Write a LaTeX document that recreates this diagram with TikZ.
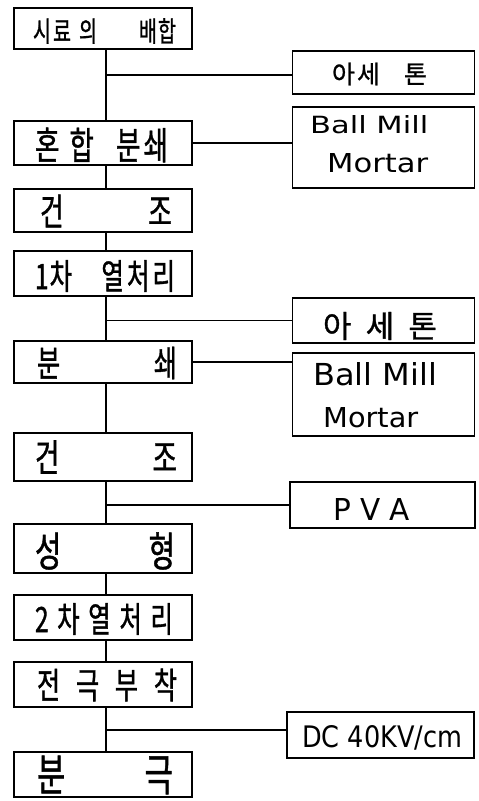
\documentclass[tikz,border=0pt]{standalone}
\usepackage{fontspec}
\usepackage{graphicx}
\newfontfamily\kr[FakeStretch=0.7,FakeBold=1.0]{Noto Sans CJK KR}
\newfontfamily\krw[FakeBold=1.0]{Noto Sans CJK KR}
\newfontfamily\lat{DejaVu Sans}
\begin{document}
\begin{tikzpicture}[x=1pt,y=1pt,
  box/.style={draw, line width=1.1pt, inner sep=0pt, minimum width=178pt},
  rbox/.style={draw, line width=1.1pt, inner sep=0pt},
  conn/.style={line width=1.7pt},
  txt/.style={inner sep=0pt, anchor=center},
  ltxt/.style={inner sep=0pt, anchor=base west}]
\useasboundingbox (0,0) rectangle (479,-801);
\fill[white] (0,0) rectangle (479,-801);
% left column boxes
\node[box, minimum height=41pt] (s1) at (103,-28.5) {};
\node[box, minimum height=44pt] (s2) at (103,-143) {};
\node[box, minimum height=43pt] (s3) at (103,-210.5) {};
\node[box, minimum height=45pt] (s4) at (103,-273.5) {};
\node[box, minimum height=42pt] (s5) at (103,-362) {};
\node[box, minimum height=48pt] (s6) at (103,-457) {};
\node[box, minimum height=49pt] (s7) at (103,-548.5) {};
\node[box, minimum height=45pt] (s8) at (103,-617.5) {};
\node[box, minimum height=45pt] (s9) at (103,-684.5) {};
\node[box, minimum height=45pt] (s10) at (103,-774.5) {};
% right column boxes
\node[rbox, minimum width=182pt, minimum height=43pt] (r1) at (383.5,-72.5) {};
\node[rbox, minimum width=182pt, minimum height=81pt] (r2) at (383.5,-147.5) {};
\node[rbox, minimum width=182pt, minimum height=45pt] (r3) at (383.5,-320.5) {};
\node[rbox, minimum width=182pt, minimum height=83pt] (r4) at (383.5,-394.5) {};
\node[rbox, minimum width=185pt, minimum height=46pt] (r5) at (382.5,-505) {};
\node[rbox, minimum width=187pt, minimum height=46pt] (r6) at (380.5,-735) {};
% texts left
\node[txt] (t1) at (104.5,-31) {\kr\fontsize{28}{28}\selectfont\makebox[143pt]{시\hspace{2pt}료\hspace{8pt}의\hfill 배\hspace{1pt}합}};
\node[txt] (t2) at (101.5,-145) {\kr\fontsize{38}{38}\selectfont\makebox[133pt]{혼\hspace{10pt}합\hfill 분\hspace{3pt}쇄}};
\node[txt] (t3) at (106,-211) {\kr\fontsize{37}{37}\selectfont\makebox[132pt]{건\hfill 조}};
\node[txt] (t4) at (105,-276) {\kr\fontsize{35}{35}\selectfont\makebox[140pt]{1\hspace{1pt}차\hfill 열\hspace{3pt}처\hspace{3pt}리}};
\node[txt] (t5) at (107,-363) {\kr\fontsize{36}{36}\selectfont\makebox[140pt]{분\hfill 쇄}};
\node[txt] (t6) at (106,-457) {\kr\fontsize{38}{38}\selectfont\makebox[142pt]{건\hfill 조}};
\node[txt] (t7) at (105,-551) {\kr\fontsize{41}{41}\selectfont\makebox[140pt]{성\hfill 형}};
\node[txt] (t8) at (104,-619) {\kr\fontsize{35}{35}\selectfont\makebox[138pt]{2\hfill 차\hfill 열\hfill 처\hfill 리}};
\node[txt] (t9) at (107,-685) {\kr\fontsize{36}{36}\selectfont\makebox[140pt]{전\hfill 극\hfill 부\hfill 착}};
\node[txt] (t10) at (105,-775) {\kr\fontsize{44}{44}\selectfont\makebox[136pt]{분\hfill 극}};
% texts right
\node[txt] (u1) at (379.5,-74) {\krw\fontsize{25}{25}\selectfont\makebox[95pt]{아\hspace{2pt}세\hfill 톤}};
\node[ltxt] (u2a) at (310,-133) {\lat\resizebox{118pt}{18pt}{Ball Mill}};
\node[ltxt] (u2b) at (327,-172) {\lat\resizebox{101pt}{19pt}{Mortar}};
\node[txt] (u3) at (380,-326) {\krw\fontsize{31}{31}\selectfont\makebox[114pt]{아\hfill 세\hfill 톤}};
\node[ltxt] (u4a) at (313,-385) {\lat\resizebox{124pt}{23pt}{Ball Mill}};
\node[ltxt] (u4b) at (323,-427) {\lat\resizebox{95pt}{20pt}{Mortar}};
\node[ltxt] (u5) at (333,-520) {\lat\resizebox{77pt}{22pt}{P V A}};
\node[ltxt] (u6) at (302,-747) {\lat\resizebox{160pt}{22pt}{DC 40KV/cm}};
% spine
\coordinate (spine) at (106,0);
\draw[conn] ([xshift=3pt]s1.south) -- ([xshift=3pt]s2.north);
\draw[conn] ([xshift=3pt]s2.south) -- ([xshift=3pt]s3.north);
\draw[conn] ([xshift=3pt]s3.south) -- ([xshift=3pt]s4.north);
\draw[conn] ([xshift=3pt]s4.south) -- ([xshift=3pt]s5.north);
\draw[conn] ([xshift=3pt]s5.south) -- ([xshift=3pt]s6.north);
\draw[conn] ([xshift=3pt]s6.south) -- ([xshift=3pt]s7.north);
\draw[conn] ([xshift=3pt]s7.south) -- ([xshift=3pt]s8.north);
\draw[conn] ([xshift=3pt]s8.south) -- ([xshift=3pt]s9.north);
\draw[conn] ([xshift=3pt]s9.south) -- ([xshift=3pt]s10.north);
% branches
\coordinate (j1) at ([yshift=-2.5pt]r1.west);
\coordinate (j6) at ([yshift=5pt]r6.west);
\draw[conn] (spine |- j1) -- (j1);
\draw[conn] (s2.east) -- (s2.east -| r2.west);
\draw[conn] (spine |- r3.west) -- (r3.west);
\draw[conn] (s5.east) -- (s5.east -| r4.west);
\draw[conn] (spine |- r5.west) -- (r5.west);
\draw[conn] (spine |- j6) -- (j6);
\end{tikzpicture}
\end{document}
